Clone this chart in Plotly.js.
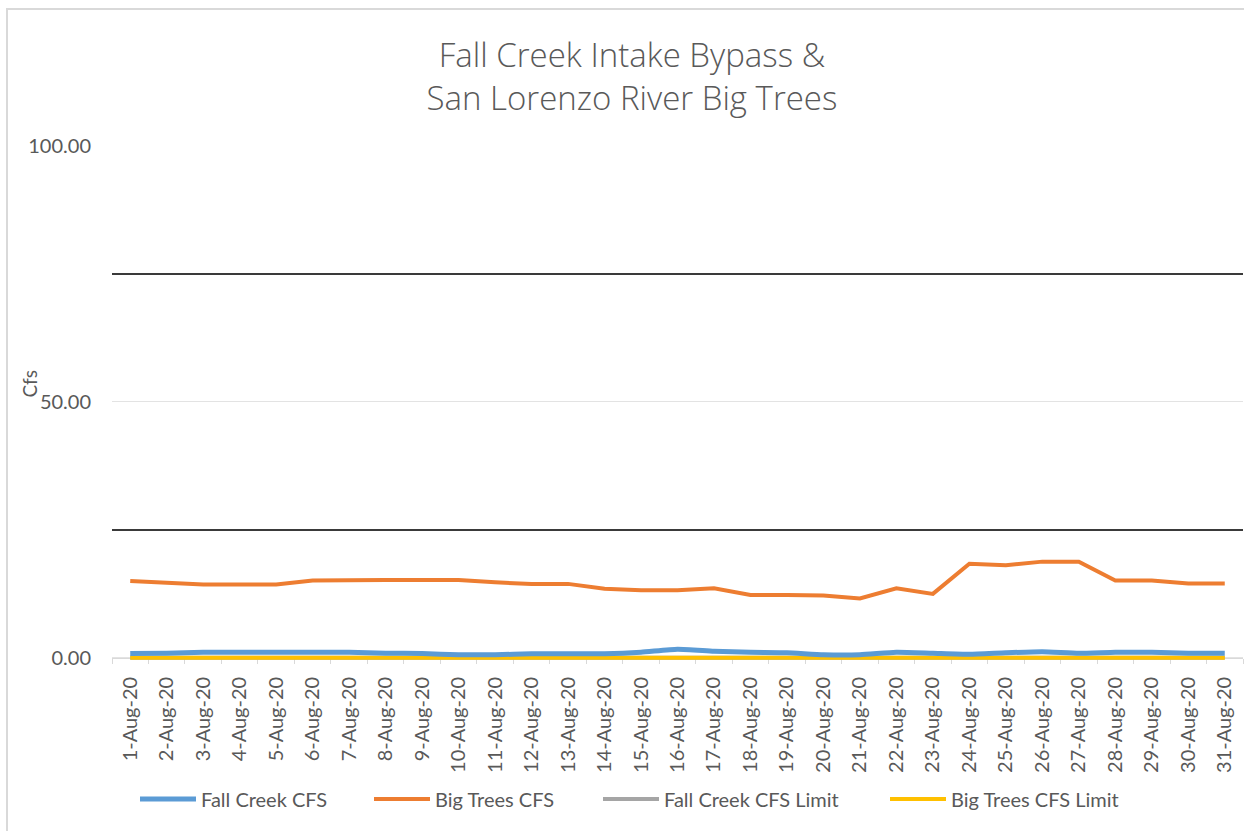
<!DOCTYPE html>
<html>
<head>
<meta charset="utf-8">
<script src="https://cdn.plot.ly/plotly-3.0.1.min.js"></script>
<style>
  html, body { margin: 0; padding: 0; background: #ffffff; overflow: hidden; }
  #chart { position: absolute; left: 0; top: 0; width: 1244px; height: 831px; }
  #frame { position: absolute; left: 6px; top: 8px; width: 1300px; height: 900px;
           border: 2px solid #d9d9d9; pointer-events: none; }
</style>
</head>
<body>
<div id="chart"></div>
<div id="frame"></div>
<script>
const dates = ["1-Aug-20","2-Aug-20","3-Aug-20","4-Aug-20","5-Aug-20","6-Aug-20","7-Aug-20","8-Aug-20","9-Aug-20","10-Aug-20",
  "11-Aug-20","12-Aug-20","13-Aug-20","14-Aug-20","15-Aug-20","16-Aug-20","17-Aug-20","18-Aug-20","19-Aug-20","20-Aug-20",
  "21-Aug-20","22-Aug-20","23-Aug-20","24-Aug-20","25-Aug-20","26-Aug-20","27-Aug-20","28-Aug-20","29-Aug-20","30-Aug-20","31-Aug-20"];

const fallCreekCFS = [0.85,0.9,1.1,1.1,1.1,1.1,1.1,0.9,0.85,0.6,
  0.6,0.8,0.8,0.8,1.1,1.7,1.3,1.1,1.0,0.6,
  0.6,1.1,0.9,0.7,1.0,1.2,0.9,1.1,1.1,0.9,0.9];

const bigTreesCFS = [15.0,14.65,14.35,14.35,14.35,15.1,15.2,15.2,15.2,15.2,
  14.75,14.45,14.45,13.5,13.2,13.2,13.6,12.3,12.3,12.2,
  11.6,13.6,12.5,18.4,18.1,18.8,18.8,15.1,15.1,14.55,14.55];

const fallCreekLimit = [0,0,0,0,0,0,0,0,0,0,0,0,0,0,0,0,0,0,0,0,0,0,0,0,0,0,0,0,0,0,0];
const bigTreesLimit  = [0,0,0,0,0,0,0,0,0,0,0,0,0,0,0,0,0,0,0,0,0,0,0,0,0,0,0,0,0,0,0];

const referenceLines = [25, 75];
const yTicks = [0, 50, 100];
const yTickText = ["0.00", "50.00", "100.00"];

const traces = [
  { x: dates, y: fallCreekLimit, name: "Fall Creek CFS Limit", type: "scatter", mode: "lines",
    line: { color: "#a5a5a5", width: 4 }, legend: "legend3" },
  { x: dates, y: bigTreesLimit, name: "Big Trees CFS Limit", type: "scatter", mode: "lines",
    line: { color: "#ffc000", width: 4 }, legend: "legend4" },
  { x: dates, y: fallCreekCFS, name: "Fall Creek CFS", type: "scatter", mode: "lines",
    line: { color: "#5b9bd5", width: 5, shape: "spline", smoothing: 0.5 }, legend: "legend" },
  { x: dates, y: bigTreesCFS, name: "Big Trees CFS", type: "scatter", mode: "lines",
    line: { color: "#ed7d31", width: 4 }, legend: "legend2" }
];

const shapes = referenceLines.map(v => ({
  type: "line", xref: "paper", yref: "y", x0: 0, x1: 1, y0: v, y1: v,
  line: { color: "#3a3a3a", width: 2 }, layer: "above"
}));

function leg(px) {
  return {
    orientation: "h", xref: "container", yref: "container",
    x: px / 1244, xanchor: "left", y: 1 - 799 / 831, yanchor: "middle",
    font: { family: "Lato, sans-serif", size: 20, color: "#595959" },
    itemwidth: 56, bgcolor: "rgba(0,0,0,0)", borderwidth: 0
  };
}

const yMin = -1.2, yMax = 100;

const layout = {
  width: 1244, height: 831,
  margin: { l: 112, r: 1, t: 146, b: 167 },
  paper_bgcolor: "rgba(0,0,0,0)",
  plot_bgcolor: "rgba(0,0,0,0)",
  font: { family: "Lato, 'Open Sans', sans-serif", color: "#595959" },
  title: {
    text: "Fall Creek Intake Bypass &<br>San Lorenzo River Big Trees",
    font: { family: "'Open Sans', Lato, sans-serif", size: 33, color: "#595959", weight: 300 },
    x: 0.508, xanchor: "center", y: 0.919, yanchor: "middle"
  },
  xaxis: {
    type: "category",
    range: [-0.5, 30.5],
    automargin: false,
    anchor: "free",
    position: (0 - yMin) / (yMax - yMin),
    layer: "below traces",
    tickangle: -90,
    tickfont: { family: "Lato, sans-serif", size: 20, color: "#595959" },
    showgrid: false,
    showline: true, linecolor: "#d9d9d9", linewidth: 1,
    ticks: "outside", tickson: "boundaries", ticklen: 5, tickcolor: "#d9d9d9",
    ticklabelstandoff: 10,
    zeroline: false,
    fixedrange: true
  },
  yaxis: {
    range: [yMin, yMax],
    automargin: false,
    tickvals: yTicks, ticktext: yTickText,
    tickfont: { size: 20, color: "#595959" },
    showgrid: true, gridcolor: "#e3e3e3", gridwidth: 1,
    zeroline: false, showline: false,
    ticklabelstandoff: 20,
    fixedrange: true
  },
  annotations: [{
    text: "Cfs", textangle: -90, xref: "paper", yref: "y",
    x: -0.073, y: 53.5, xanchor: "center", yanchor: "middle", showarrow: false,
    font: { size: 19, color: "#595959" }
  }],
  shapes: shapes,
  showlegend: true,
  legend: leg(135),
  legend2: leg(369),
  legend3: leg(598),
  legend4: leg(885)
};

Plotly.newPlot("chart", traces, layout, { displayModeBar: false, staticPlot: true });
</script>
</body>
</html>
